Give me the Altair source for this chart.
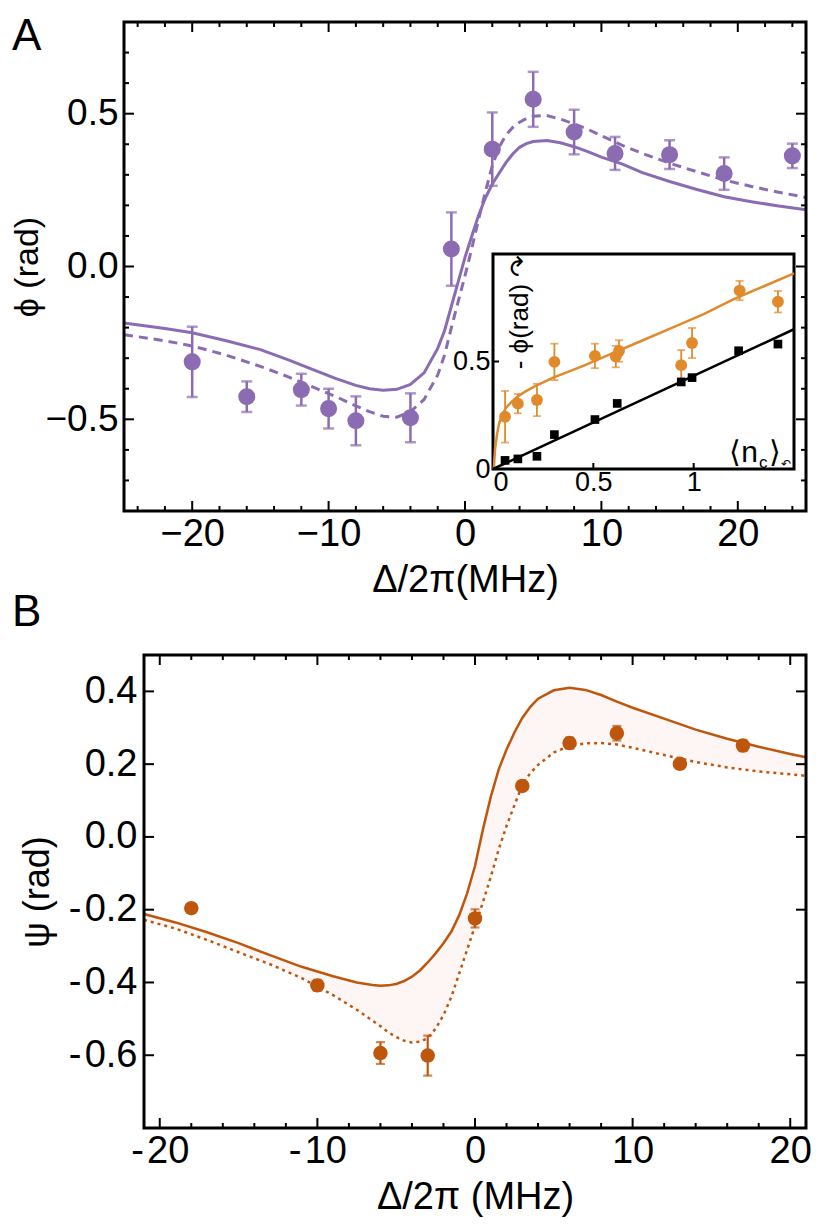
import altair as alt
import pandas as pd

FONT = "Liberation Sans"
PURPLE = "#8b6cb3"
ORANGE = "#e08a2c"
BROWN = "#bf560d"
FILL = "#fdf6f5"

# ---------------- Panel A : phase phi vs detuning ----------------
a_det = [-20, -16, -12, -10, -8, -4, -1, 2, 5, 8, 11, 15, 19, 24]
a_phi = [-0.312, -0.426, -0.403, -0.465, -0.505, -0.495, 0.057, 0.384, 0.547, 0.44, 0.37, 0.366, 0.304, 0.362]
a_err = [0.115, 0.05, 0.052, 0.065, 0.08, 0.08, 0.12, 0.12, 0.09, 0.073, 0.054, 0.047, 0.053, 0.04]

a_curve_x = [-25, -22, -20, -17.5, -15, -13, -11, -9.5, -8, -7, -6, -5, -4, -3, -2, -1.5, -1, -0.5,
             0, 0.5, 1, 1.5, 2, 2.5, 3, 3.5, 4, 4.5, 5, 6, 7, 8, 9, 10, 11.5, 13, 15, 17, 19, 21, 23, 25]
a_curve_solid = [-0.185, -0.203, -0.217, -0.243, -0.272, -0.305, -0.340, -0.366, -0.389, -0.400, -0.405,
                 -0.402, -0.386, -0.348, -0.268, -0.21, -0.13, -0.05, 0.03, 0.10, 0.168, 0.225, 0.27,
                 0.305, 0.34, 0.368, 0.39, 0.402, 0.409, 0.412, 0.405, 0.392, 0.376, 0.358, 0.336,
                 0.307, 0.278, 0.252, 0.228, 0.212, 0.198, 0.186]
a_curve_dash = [-0.223, -0.243, -0.26, -0.29, -0.327, -0.36, -0.397, -0.425, -0.456, -0.475, -0.49,
                -0.493, -0.475, -0.435, -0.355, -0.29, -0.2, -0.115, -0.03, 0.06, 0.155, 0.245, 0.33,
                0.39, 0.43, 0.455, 0.472, 0.484, 0.492, 0.494, 0.482, 0.467, 0.449, 0.428, 0.397,
                0.37, 0.338, 0.31, 0.283, 0.262, 0.243, 0.226]

A_XDOM = [-25, 25]
A_YDOM = [-0.8, 0.8]
A_XMAJ = [-20, -10, 0, 10, 20]
A_XMIN = [-24, -22, -18, -16, -14, -12, -8, -6, -4, -2, 2, 4, 6, 8, 12, 14, 16, 18, 22, 24]
A_YMAJ = [-0.5, 0.0, 0.5]
A_YMIN = [-0.7, -0.6, -0.4, -0.3, -0.2, -0.1, 0.1, 0.2, 0.3, 0.4, 0.6, 0.7]

# ---------------- Inset : -phi vs <n_c> ----------------
in_orange_n = [0.06, 0.124, 0.219, 0.306, 0.508, 0.612, 0.628, 0.938, 0.992, 1.229, 1.42]
in_orange_phi = [0.243, 0.304, 0.321, 0.498, 0.526, 0.523, 0.549, 0.483, 0.586, 0.83, 0.778]
in_orange_err = [0.12, 0.045, 0.075, 0.085, 0.057, 0.05, 0.05, 0.07, 0.07, 0.045, 0.05]
in_black_n = [0.06, 0.124, 0.219, 0.306, 0.508, 0.619, 0.938, 0.992, 1.224, 1.42]
in_black_phi = [0.04, 0.047, 0.059, 0.16, 0.23, 0.305, 0.405, 0.425, 0.55, 0.581]
in_orange_fit_n = [0.004, 0.01, 0.02, 0.03, 0.045, 0.065, 0.09, 0.12, 0.16, 0.21, 0.3, 0.45, 0.6,
                   0.75, 0.9, 1.05, 1.2, 1.35, 1.5]
in_orange_fit_phi = [0.0, 0.09, 0.16, 0.21, 0.25, 0.285, 0.31, 0.335, 0.36, 0.385, 0.425, 0.48, 0.54,
                     0.6, 0.66, 0.72, 0.79, 0.85, 0.91]
in_black_fit_n = [0.0, 1.5]
in_black_fit_phi = [0.0, 0.65]
IN_XDOM = [0, 1.5]
IN_YDOM = [0, 1.0]
IN_XMAJ = [0, 0.5, 1]
IN_YMAJ = [0, 0.5]

# ---------------- Panel B : psi vs detuning ----------------
b_det = [-18, -10, -6, -3, 0, 3, 6, 9, 13, 17]
b_psi = [-0.196, -0.408, -0.594, -0.601, -0.224, 0.14, 0.258, 0.285, 0.201, 0.251]
b_err = [0.004, 0.015, 0.03, 0.055, 0.025, 0.012, 0.015, 0.02, 0.01, 0.015]

b_curve_x = [-21, -19, -17, -15, -13, -11, -9, -7.5, -6.5, -6, -5.5, -5, -4.5, -4, -3.5, -3, -2.5, -2,
             -1.5, -1, -0.5, 0, 0.5, 1, 1.5, 2, 2.5, 3, 3.5, 4, 5, 6, 7, 8, 9, 10, 12, 14, 16, 18, 20, 21]
b_curve_solid = [-0.212, -0.235, -0.262, -0.292, -0.325, -0.357, -0.383, -0.400, -0.407, -0.409,
                 -0.408, -0.404, -0.396, -0.384, -0.367, -0.345, -0.32, -0.292, -0.26, -0.215,
                 -0.155, -0.08, 0.02, 0.11, 0.185, 0.24, 0.287, 0.327, 0.357, 0.38, 0.403, 0.41,
                 0.404, 0.39, 0.372, 0.355, 0.325, 0.295, 0.27, 0.248, 0.228, 0.219]
b_curve_dot = [-0.228, -0.252, -0.283, -0.317, -0.35, -0.388, -0.435, -0.475, -0.505, -0.52, -0.537,
               -0.55, -0.56, -0.565, -0.563, -0.553, -0.527, -0.49, -0.44, -0.375, -0.31, -0.245,
               -0.18, -0.11, -0.035, 0.03, 0.087, 0.142, 0.175, 0.198, 0.232, 0.25, 0.257, 0.258,
               0.254, 0.245, 0.225, 0.206, 0.191, 0.18, 0.172, 0.168]
B_XDOM = [-21, 21]
B_YDOM = [-0.8, 0.5]
B_XMAJ = [-20, -10, 0, 10, 20]
B_XMIN = [-18, -16, -14, -12, -8, -6, -4, -2, 2, 4, 6, 8, 12, 14, 16, 18]
B_YMAJ = [-0.6, -0.4, -0.2, 0.0, 0.2, 0.4]

# ---------------- layout (pixels inside the drawing area) ----------------
W = 682
H = 1106
A_BOT = 489
B_TOP = 633
B_LEFT = 20
IN_L, IN_R, IN_T, IN_B = 369, 670, 232, 447
MAJ, MINL = 10, 5

xA = alt.Scale(domain=A_XDOM, range=[0, W], nice=False, zero=False)
yA = alt.Scale(domain=A_YDOM, range=[A_BOT, 0], nice=False, zero=False)
xI = alt.Scale(domain=IN_XDOM, range=[IN_L, IN_R], nice=False, zero=False)
yI = alt.Scale(domain=IN_YDOM, range=[IN_B, IN_T], nice=False, zero=False)
xB = alt.Scale(domain=B_XDOM, range=[B_LEFT, W], nice=False, zero=False)
yB = alt.Scale(domain=B_YDOM, range=[H, B_TOP], nice=False, zero=False)

common = dict(ticks=False, tickSize=0, domain=False, grid=False)
axA_x = alt.Axis(values=A_XMAJ, orient="bottom", offset=A_BOT - H, title="Δ/2π(MHz)",
                 labelFontSize=38, titleFontSize=38, labelPadding=4, titlePadding=8, **common)
axA_y = alt.Axis(values=A_YMAJ, orient="left", offset=0, title="ϕ (rad)", format=".1f",
                 labelFontSize=37, titleFontSize=34, labelPadding=6, titlePadding=0, **common)
axI_x = alt.Axis(values=IN_XMAJ, orient="bottom", offset=IN_B - H, title="", format="~g",
                 labelFontSize=27, labelPadding=0, **common)
axI_y = alt.Axis(values=IN_YMAJ, orient="left", offset=-IN_L, title="", format="~g",
                 labelFontSize=27, labelPadding=3, **common)
axB_x = alt.Axis(values=B_XMAJ, orient="bottom", offset=0, title="Δ/2π (MHz)",
                 labelExpr="datum.value < 0 ? '-\u200a' + format(-datum.value, 'd') : format(datum.value, 'd')",
                 labelFontSize=38, titleFontSize=38, labelPadding=4, titlePadding=8, **common)
axB_y = alt.Axis(values=B_YMAJ, orient="left", offset=-B_LEFT, title="ψ (rad)",
                 labelExpr="datum.value < 0 ? '-\u200a' + format(-datum.value, '.1f') : format(datum.value, '.1f')",
                 labelFontSize=38, titleFontSize=36, labelPadding=7, titlePadding=12, **common)


def X(field, scale, axis=None):
    return alt.X(field, scale=scale, axis=axis) if axis is not None else alt.X(field, scale=scale)


def Y(field, scale, axis=None):
    return alt.Y(field, scale=scale, axis=axis) if axis is not None else alt.Y(field, scale=scale)


def ticks_x(values, xs, y_edge, length, down):
    df = pd.DataFrame({"v": values})
    y2 = y_edge - length if down else y_edge + length
    return alt.Chart(df).mark_rule(color="black", strokeWidth=2).encode(
        x=X("v:Q", xs), y=alt.value(y_edge), y2=alt.value(y2))


def ticks_y(values, ys, x_edge, length, right):
    df = pd.DataFrame({"v": values})
    x2 = x_edge + length if right else x_edge - length
    return alt.Chart(df).mark_rule(color="black", strokeWidth=2).encode(
        y=Y("v:Q", ys), x=alt.value(x_edge), x2=alt.value(x2))


def errbars(df, xs, ys, color, cap, stroke):
    base = alt.Chart(df).transform_calculate(lo="datum.y - datum.e", hi="datum.y + datum.e")
    rule = base.mark_rule(color=color, strokeWidth=stroke).encode(
        x=X("x:Q", xs), y=Y("lo:Q", ys), y2="hi:Q")
    cap_lo = base.mark_tick(color=color, orient="horizontal", size=cap, thickness=stroke).encode(
        x=X("x:Q", xs), y=Y("lo:Q", ys))
    cap_hi = base.mark_tick(color=color, orient="horizontal", size=cap, thickness=stroke).encode(
        x=X("x:Q", xs), y=Y("hi:Q", ys))
    return [rule, cap_lo, cap_hi]


def label(text, x, y, size, align="left", baseline="alphabetic", angle=0):
    return alt.Chart(pd.DataFrame({"t": [text]})).mark_text(
        font=FONT, fontSize=size, align=align, baseline=baseline, angle=angle, color="black").encode(
        text="t:N", x=alt.value(x), y=alt.value(y))


# ---------------- Panel A layers ----------------
dfA = pd.DataFrame({"x": a_det, "y": a_phi, "e": a_err})
dfAc = pd.DataFrame({"x": a_curve_x, "solid": a_curve_solid, "dash": a_curve_dash})
frameA = pd.DataFrame({"x0": [A_XDOM[0]], "x1": [A_XDOM[1]], "y0": [A_YDOM[0]], "y1": [A_YDOM[1]]})

a_layers = [
    alt.Chart(dfAc).mark_line(color=PURPLE, strokeWidth=3).encode(
        x=X("x:Q", xA, axA_x), y=Y("solid:Q", yA, axA_y)),
    alt.Chart(dfAc).mark_line(color=PURPLE, strokeWidth=3, strokeDash=[9, 6]).encode(
        x=X("x:Q", xA), y=Y("dash:Q", yA)),
]
a_layers += errbars(dfA, xA, yA, PURPLE, 11, 2.5)
a_layers += [
    alt.Chart(dfA).mark_circle(color=PURPLE, size=290, opacity=1).encode(
        x=X("x:Q", xA), y=Y("y:Q", yA)),
    ticks_x(A_XMAJ, xA, A_BOT, MAJ, True), ticks_x(A_XMIN, xA, A_BOT, MINL, True),
    ticks_x(A_XMAJ, xA, 0, MAJ, False), ticks_x(A_XMIN, xA, 0, MINL, False),
    ticks_y(A_YMAJ, yA, 0, MAJ, True), ticks_y(A_YMIN, yA, 0, MINL, True),
    ticks_y(A_YMAJ, yA, W, MAJ, False), ticks_y(A_YMIN, yA, W, MINL, False),
    alt.Chart(frameA).mark_rect(fillOpacity=0, stroke="black", strokeWidth=3).encode(
        x=X("x0:Q", xA), x2="x1:Q", y=Y("y0:Q", yA), y2="y1:Q"),
    label("A", -112, 28, 44),
    label("B", -112, 604, 44),
]
layerA = alt.layer(*a_layers)

# ---------------- Inset layers ----------------
frameI = pd.DataFrame({"x0": [IN_XDOM[0]], "x1": [IN_XDOM[1]], "y0": [IN_YDOM[0]], "y1": [IN_YDOM[1]]})
dfIo = pd.DataFrame({"x": in_orange_n, "y": in_orange_phi, "e": in_orange_err})
dfIb = pd.DataFrame({"x": in_black_n, "y": in_black_phi})
dfIof = pd.DataFrame({"x": in_orange_fit_n, "y": in_orange_fit_phi})
dfIbf = pd.DataFrame({"x": in_black_fit_n, "y": in_black_fit_phi})

i_layers = [
    alt.Chart(frameI).mark_rect(fill="white", stroke="black", strokeWidth=3).encode(
        x=X("x0:Q", xI, axI_x), x2="x1:Q", y=Y("y0:Q", yI, axI_y), y2="y1:Q"),
    alt.Chart(dfIof).mark_line(color=ORANGE, strokeWidth=2.5).encode(
        x=X("x:Q", xI), y=Y("y:Q", yI)),
    alt.Chart(dfIbf).mark_line(color="black", strokeWidth=2.5).encode(
        x=X("x:Q", xI), y=Y("y:Q", yI)),
]
i_layers += errbars(dfIo, xI, yI, ORANGE, 8, 1.8)
i_layers += [
    alt.Chart(dfIo).mark_circle(color=ORANGE, size=140, opacity=1).encode(
        x=X("x:Q", xI), y=Y("y:Q", yI)),
    alt.Chart(dfIb).mark_square(color="black", size=75, opacity=1).encode(
        x=X("x:Q", xI), y=Y("y:Q", yI)),
    ticks_x(IN_XMAJ[1:], xI, IN_B, 6, True),
    ticks_y(IN_YMAJ[1:], yI, IN_L, 6, True),
    label("- ϕ(rad) ↷", 396, 290, 26, align="center", baseline="middle", angle=270),
    label("⟨n", 634, 440, 30, align="right"),
    label("c", 635, 446, 17),
    label("⟩", 645, 440, 30),
    label("↶", 662, 442, 12, align="center", baseline="middle"),
]
layerI = alt.layer(*i_layers)

# ---------------- Panel B layers ----------------
dfB = pd.DataFrame({"x": b_det, "y": b_psi, "e": b_err})
dfBc = pd.DataFrame({"x": b_curve_x, "solid": b_curve_solid, "dot": b_curve_dot})
frameB = pd.DataFrame({"x0": [B_XDOM[0]], "x1": [B_XDOM[1]], "y0": [B_YDOM[0]], "y1": [B_YDOM[1]]})

b_layers = [
    alt.Chart(dfBc).mark_area(color=FILL, opacity=1).encode(
        x=X("x:Q", xB, axB_x), y=Y("solid:Q", yB, axB_y), y2="dot:Q"),
    alt.Chart(dfBc).mark_line(color=BROWN, strokeWidth=2.5).encode(
        x=X("x:Q", xB), y=Y("solid:Q", yB)),
    alt.Chart(dfBc).mark_line(color=BROWN, strokeWidth=2.5, strokeDash=[3, 4]).encode(
        x=X("x:Q", xB), y=Y("dot:Q", yB)),
]
b_layers += errbars(dfB, xB, yB, BROWN, 9, 2.2)
b_layers += [
    alt.Chart(dfB).mark_circle(color=BROWN, size=210, opacity=1).encode(
        x=X("x:Q", xB), y=Y("y:Q", yB)),
    ticks_x(B_XMAJ, xB, H, MAJ, True), ticks_x(B_XMIN, xB, H, MINL, True),
    ticks_x(B_XMAJ, xB, B_TOP, MAJ, False), ticks_x(B_XMIN, xB, B_TOP, MINL, False),
    ticks_y(B_YMAJ, yB, B_LEFT, MAJ, True), ticks_y(B_YMAJ, yB, W, MAJ, False),
    alt.Chart(frameB).mark_rect(fillOpacity=0, stroke="black", strokeWidth=3).encode(
        x=X("x0:Q", xB), x2="x1:Q", y=Y("y0:Q", yB), y2="y1:Q"),
]
layerB = alt.layer(*b_layers)

chart = alt.layer(layerA, layerI, layerB).resolve_scale(
    x="independent", y="independent"
).properties(
    width=W, height=H,
    padding={"left": 116, "top": 14, "right": 6, "bottom": 92},
    autosize=alt.AutoSizeParams(type="none"),
).configure_view(strokeWidth=0).configure_axis(
    labelFont=FONT, titleFont=FONT, labelColor="black", titleColor="black",
    titleFontWeight="normal", grid=False
)

chart.save("out.html", embed_options={"renderer": "svg", "actions": False})
